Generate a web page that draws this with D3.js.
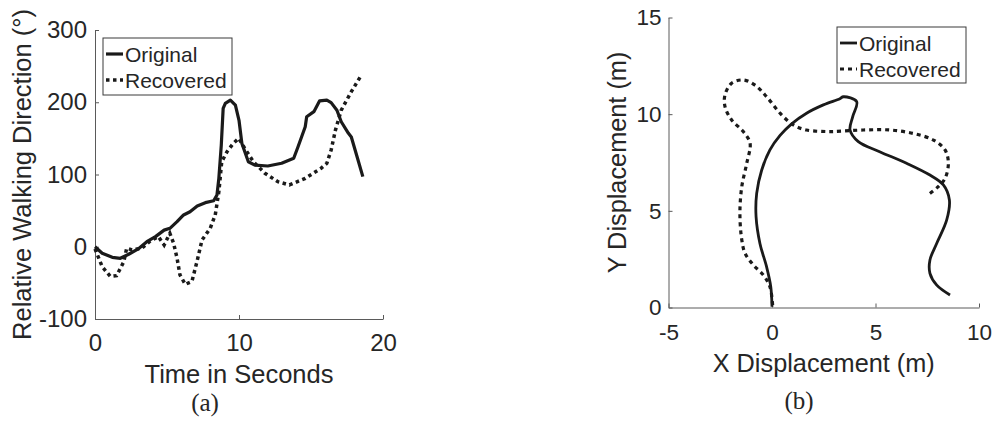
<!DOCTYPE html>
<html>
<head>
<meta charset="utf-8">
<script src="https://cdn.jsdelivr.net/npm/d3@7"></script>
<style>
body { margin: 0; background: #fff; }
svg text { font-family: "Liberation Sans", Arial, Helvetica, sans-serif; fill: #262626; }
.axis path, .axis line { stroke: #5a5a5a; stroke-width: 1; }
</style>
</head>
<body>
<svg id="chart" width="995" height="425"></svg>
<script>
"use strict";

// (a) walking direction over time
const timeOriginal = [0, 0.5, 1.2, 1.76, 2.34, 3.0, 3.6, 4.2, 4.8, 5.2, 5.7, 6.15, 6.6, 7.1, 7.66, 8.24, 8.47, 8.6, 8.77, 8.9, 9.05, 9.4, 9.75, 10.0, 10.2, 10.65, 11.1, 12.0, 12.96, 13.8, 14.1, 14.6, 14.7, 15.2, 15.6, 16.1, 16.4, 16.8, 17.1, 17.6, 17.8, 18.2, 18.6];
const dirOriginal = [0, -9, -14.6, -16, -10.4, -3, 7, 14, 23, 25.5, 34.7, 44, 48.5, 56.4, 61, 63.7, 71.6, 94.7, 140.8, 191.6, 198.5, 203, 196, 175, 143, 117.7, 113, 111.8, 115.5, 122.4, 138.5, 166, 180, 187, 202, 203, 199.5, 189, 173, 157, 152, 124.6, 97];
const timeRecovered = [0, 0.5, 1.06, 1.5, 2.0, 2.2, 2.57, 3.26, 3.84, 4.4, 4.8, 5.2, 5.46, 5.7, 5.9, 6.27, 6.73, 7.08, 7.43, 8.0, 8.35, 8.6, 8.8, 9.17, 9.6, 9.98, 10.4, 11.0, 11.8, 12.7, 13.5, 14.6, 15.7, 16.1, 16.4, 16.7, 17.1, 17.8, 18.5];
const dirRecovered = [-3, -27.6, -41, -40, -20.7, -2, -4.5, -2, 8, 14, 2.4, 18.6, 4.8, -16, -39, -52, -48, -20.7, 9.3, 25.5, 44, 76, 117.7, 131.6, 143, 150, 136, 117.7, 101.7, 90, 85.5, 94.7, 108.6, 115.5, 134, 161.6, 189, 214.6, 237.7];
const ticksTime = [0, 10, 20];
const ticksDir = [-100, 0, 100, 200, 300];

// (b) trajectory
const xOriginal = [0, -0.06, -0.26, -0.58, -0.77, -0.74, -0.5, -0.1, 0.39, 0.95, 1.67, 2.48, 3.28, 3.45, 4.09, 3.9, 3.77, 4.17, 5.2, 6.5, 7.63, 8.28, 8.57, 8.44, 7.96, 7.63, 7.63, 7.96, 8.6];
const yOriginal = [0.04, 1.08, 2.1, 3.3, 4.7, 5.9, 7.1, 8.15, 8.9, 9.5, 10.05, 10.48, 10.8, 10.9, 10.65, 9.87, 9.18, 8.58, 8.06, 7.46, 6.85, 6.34, 5.56, 4.53, 3.32, 2.46, 1.77, 1.16, 0.65];
const xRecovered = [0.03, -0.1, -0.42, -0.9, -1.3, -1.46, -1.55, -1.46, -1.22, -1.06, -1.39, -1.95, -2.27, -2.27, -1.95, -1.39, -0.82, -0.26, 0.39, 1.03, 1.67, 2.64, 2.96, 4.41, 5.7, 6.83, 7.8, 8.36, 8.52, 8.36, 8.03, 7.63];
const yRecovered = [0.13, 1.08, 1.68, 2.2, 2.8, 3.5, 4.87, 6.25, 7.46, 8.5, 9.1, 9.7, 10.39, 11.0, 11.6, 11.77, 11.5, 10.9, 10.05, 9.44, 9.18, 9.1, 9.1, 9.18, 9.18, 9.0, 8.66, 8.15, 7.46, 6.68, 6.25, 5.9];
const ticksXDisp = [-5, 0, 5, 10];
const ticksYDisp = [0, 5, 10, 15];

const legendNames = ["Original", "Recovered"];

const svg = d3.select("#chart");

function zip (a, b) {
    return a.map((v, i) => [v, b[i]]);
}

// matlab prints a plain hyphen, not d3's unicode minus
const fmt = d => String(d);

function drawPanel (o) {
    const g = svg.append("g");

    const x = d3.scaleLinear().domain(o.xDomain).range(o.xRange);
    const y = d3.scaleLinear().domain(o.yDomain).range(o.yRange);

    // axes, ticks pointing inward
    const xAxis = g.append("g")
        .attr("class", "axis")
        .attr("transform", `translate(0,${o.yRange[0]})`)
        .call(d3.axisBottom(x).tickValues(o.xTicks).tickFormat(fmt)
            .tickSizeInner(-4).tickSizeOuter(0).tickPadding(o.xPad));
    const yAxis = g.append("g")
        .attr("class", "axis")
        .attr("transform", `translate(${o.xRange[0]},0)`)
        .call(d3.axisLeft(y).tickValues(o.yTicks).tickFormat(fmt)
            .tickSizeInner(-4).tickSizeOuter(0).tickPadding(o.yPad));

    [xAxis, yAxis].forEach(a => {
        a.selectAll("text")
            .style("font-family", '"Liberation Sans", Arial, sans-serif')
            .style("font-size", o.tickFont + "px")
            .attr("fill", "#262626");
    });

    const line = d3.line()
        .x(d => x(d[0]))
        .y(d => y(d[1]))
        .curve(o.curve);

    g.append("path")
        .attr("fill", "none")
        .attr("stroke", "#1a1a1a")
        .attr("stroke-width", o.solidWidth)
        .attr("stroke-linejoin", "round")
        .attr("d", line(o.original));

    g.append("path")
        .attr("fill", "none")
        .attr("stroke", "#1a1a1a")
        .attr("stroke-width", o.dotWidth)
        .attr("stroke-dasharray", o.dash)
        .attr("d", line(o.recovered));

    // axis titles
    g.append("text")
        .attr("x", d3.mean(o.xRange))
        .attr("y", o.xTitleY)
        .attr("text-anchor", "middle")
        .style("font-size", o.titleFont + "px")
        .text(o.xTitle);

    g.append("text")
        .attr("transform", `translate(${o.yTitleX},${d3.mean(o.yRange)}) rotate(-90)`)
        .attr("text-anchor", "middle")
        .style("font-size", o.titleFont + "px")
        .text(o.yTitle);

    // legend
    const lg = g.append("g").attr("transform", `translate(${o.legend[0]},${o.legend[1]})`);
    lg.append("rect")
        .attr("width", o.legend[2])
        .attr("height", o.legend[3])
        .attr("fill", "#fff")
        .attr("stroke", "#3a3a3a")
        .attr("stroke-width", 1);
    legendNames.forEach((name, i) => {
        const cy = 16 + i * 26;
        lg.append("line")
            .attr("x1", 3).attr("x2", 20)
            .attr("y1", cy).attr("y2", cy)
            .attr("stroke", "#1a1a1a")
            .attr("stroke-width", i === 0 ? o.solidWidth : o.dotWidth)
            .attr("stroke-dasharray", i === 0 ? null : o.dash);
        lg.append("text")
            .attr("x", 22)
            .attr("y", cy + 7.5)
            .style("font-size", "21px")
            .text(name);
    });

    svg.append("text")
        .attr("x", o.caption[0])
        .attr("y", o.caption[1])
        .attr("text-anchor", "middle")
        .style("font-size", "25px")
        .style("font-family", '"Liberation Serif", "Times New Roman", serif')
        .text(o.caption[2]);
}

drawPanel({
    xDomain: [0, 20], xRange: [95, 383],
    yDomain: [-100, 300], yRange: [319, 30],
    xTicks: ticksTime, yTicks: ticksDir,
    xPad: 15, yPad: 8,
    tickFont: 24, titleFont: 25.5,
    original: zip(timeOriginal, dirOriginal),
    recovered: zip(timeRecovered, dirRecovered),
    curve: d3.curveLinear,
    solidWidth: 3.2, dotWidth: 3.5, dash: "3.5,3.5",
    xTitle: "Time in Seconds", xTitleY: 383,
    yTitle: "Relative Walking Direction (°)", yTitleX: 31,
    legend: [103, 38, 129, 57],
    caption: [205, 411, "(a)"],
});

drawPanel({
    xDomain: [-5, 10], xRange: [668.5, 979],
    yDomain: [0, 15], yRange: [307.5, 17.5],
    xTicks: ticksXDisp, yTicks: ticksYDisp,
    xPad: 17, yPad: 7,
    tickFont: 22.5, titleFont: 25.3,
    original: zip(xOriginal, yOriginal),
    recovered: zip(xRecovered, yRecovered),
    curve: d3.curveCatmullRom.alpha(0.5),
    solidWidth: 2.8, dotWidth: 3.2, dash: "4,4",
    xTitle: "X Displacement (m)", xTitleY: 372,
    yTitle: "Y Displacement (m)", yTitleX: 626,
    legend: [837, 27, 129, 56],
    caption: [799, 409, "(b)"],
});
</script>
</body>
</html>
